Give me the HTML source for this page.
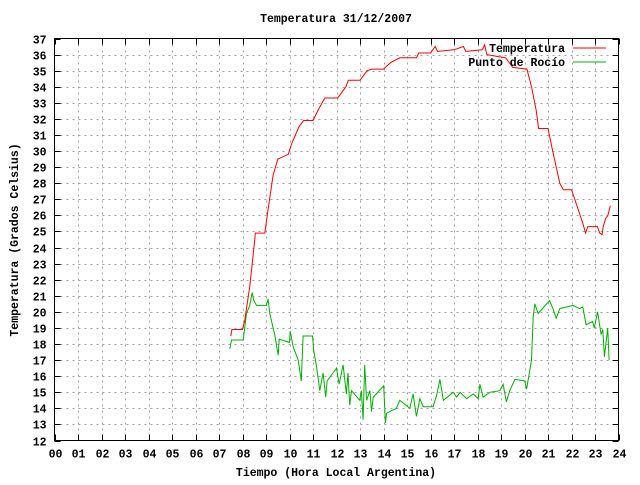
<!DOCTYPE html>
<html><head><meta charset="utf-8"><style>
body{margin:0;background:#fff}
svg text{font-family:"Liberation Mono",monospace;font-size:11.5px;font-weight:bold;fill:#000}
</style></head><body>
<svg id="chart" width="640" height="480" xmlns="http://www.w3.org/2000/svg">
<rect width="640" height="480" fill="#fff"/>
<g id="grid"></g>
<g id="axes"></g>
<g id="series"></g>
<text x="336" y="22" text-anchor="middle">Temperatura 31/12/2007</text>
<text x="336" y="476" text-anchor="middle">Tiempo (Hora Local Argentina)</text>
<text transform="translate(18,240) rotate(-90)" text-anchor="middle">Temperatura (Grados Celsius)</text>
<g>
<text x="565" y="52" text-anchor="end">Temperatura</text>
<line x1="573" y1="48" x2="606" y2="48" stroke="#f00" stroke-width="1"/>
</g>
<g>
<text x="565" y="66" text-anchor="end">Punto de Rocío</text>
<line x1="573" y1="62" x2="606" y2="62" stroke="#00b000" stroke-width="1"/>
</g>
</svg>
<script>
const xTicks=["00","01","02","03","04","05","06","07","08","09","10","11","12","13","14","15","16","17","18","19","20","21","22","23","24"];
const yTicks=[12,13,14,15,16,17,18,19,20,21,22,23,24,25,26,27,28,29,30,31,32,33,34,35,36,37];
const tempHours=[7.50,7.55,8.00,8.10,8.30,8.45,8.55,8.95,9.10,9.30,9.50,9.95,10.1,10.4,10.6,11.0,11.2,11.5,12.05,12.4,12.5,13.0,13.3,13.5,14.0,14.3,14.7,15.4,15.5,16.0,16.2,16.3,17.0,17.4,17.5,18.2,18.3,18.4,18.8,19.2,19.5,20.1,20.3,20.5,20.6,21.0,21.2,21.5,21.65,22.0,22.3,22.5,22.6,22.7,23.1,23.2,23.3,23.35,23.45,23.55,23.65];
const tempValues=[18.5,18.9,18.9,19.5,21.5,23.5,24.9,24.9,26.5,28.5,29.5,29.8,30.5,31.5,31.9,31.9,32.5,33.3,33.3,34.0,34.4,34.4,35.0,35.1,35.1,35.5,35.8,35.8,36.1,36.1,36.5,36.2,36.3,36.5,36.2,36.3,36.6,36.0,35.9,35.8,35.2,35.1,34.0,32.5,31.4,31.4,30.0,28.0,27.6,27.6,26.3,25.4,24.9,25.3,25.3,24.9,24.8,25.3,25.8,26.0,26.6];
const dewHours=[7.46,7.53,8.03,8.17,8.31,8.41,8.48,8.6,9.02,9.09,9.16,9.3,9.37,9.52,9.56,10.0,10.03,10.16,10.37,10.5,10.58,10.98,11.03,11.15,11.29,11.43,11.54,11.6,12.0,12.11,12.28,12.42,12.49,12.56,12.64,12.99,13.06,13.13,13.2,13.28,13.42,13.49,13.56,13.63,14.01,14.08,14.13,14.55,14.69,15.12,15.26,15.4,15.55,15.69,16.11,16.26,16.4,16.55,16.97,17.11,17.26,17.54,17.82,18.03,18.1,18.24,18.52,18.95,19.09,19.23,19.37,19.59,20.01,20.09,20.23,20.3,20.37,20.44,20.58,21.07,21.21,21.35,21.5,22.06,22.34,22.48,22.62,22.9,22.97,23.11,23.26,23.33,23.4,23.54,23.6];
const dewValues=[17.7,18.25,18.25,19.9,20.4,21.2,20.7,20.4,20.4,20.8,19.9,19.0,18.6,17.3,18.3,18.1,18.8,17.8,17.0,15.7,18.5,18.5,17.6,16.6,15.1,16.2,14.7,15.7,16.5,15.5,16.7,14.9,16.2,14.2,15.1,14.5,15.1,13.3,16.7,14.5,15.1,13.8,14.7,14.8,15.4,13.1,13.7,14.0,14.5,14.0,14.9,13.5,14.6,14.1,14.1,14.8,15.8,14.5,15.0,14.7,15.0,14.6,14.9,14.6,15.5,14.7,15.0,15.1,15.5,14.4,15.1,15.8,15.7,15.2,16.4,17.0,19.7,20.5,19.9,20.7,20.2,19.6,20.2,20.4,20.2,20.3,19.2,19.4,19.0,20.0,18.6,18.9,17.2,19.0,17.0];
const L=54.5,R=618.5,T=38.5,B=440.5,NS="http://www.w3.org/2000/svg";
const xS=h=>L+(R-L)*h/24, yS=v=>B-(B-T)*(v-12)/25;
function mk(tag,attrs,parent){const e=document.createElementNS(NS,tag);for(const k in attrs)e.setAttribute(k,attrs[k]);parent.appendChild(e);return e;}
const grid=document.getElementById('grid'),axes=document.getElementById('axes'),series=document.getElementById('series');
yTicks.forEach(v=>{const y=Math.round(yS(v))+0.5;
 if(v>12&&v<37){const g=mk('line',{x1:L,x2:R,y1:y,y2:y,stroke:'#a0a0a0','stroke-dasharray':'2,4'},grid);}
 mk('line',{x1:L,x2:L+6,y1:y,y2:y,stroke:'#000'},axes);mk('line',{x1:R-6,x2:R,y1:y,y2:y,stroke:'#000'},axes);
 const t=mk('text',{x:L-8,y:y+4,'text-anchor':'end'},axes);t.textContent=v;
 
 });
xTicks.forEach((s,i)=>{const x=Math.round(xS(i))+0.5;
 if(i>0&&i<24){const g=mk('line',{x1:x,x2:x,y1:T,y2:B,stroke:'#a0a0a0','stroke-dasharray':'2,4'},grid);}
 mk('line',{x1:x,x2:x,y1:B-6,y2:B,stroke:'#000'},axes);mk('line',{x1:x,x2:x,y1:T,y2:T+6,stroke:'#000'},axes);
 const t=mk('text',{x:x,y:B+17,'text-anchor':'middle'},axes);t.textContent=s;
 
 });
const frame=mk('rect',{x:L,y:T,width:R-L,height:B-T,fill:'none',stroke:'#000'},axes);


function line(hs,vs,color,name){const pts=hs.map((h,i)=>xS(h).toFixed(1)+','+yS(vs[i]).toFixed(1)).join(' ');
 const p=mk('polyline',{points:pts,fill:'none',stroke:color,'stroke-width':1},series);
 
 }
line(dewHours,dewValues,'#00b000','dew-point-line');
line(tempHours,tempValues,'#ff0000','temperature-line');
</script>
</body></html>
